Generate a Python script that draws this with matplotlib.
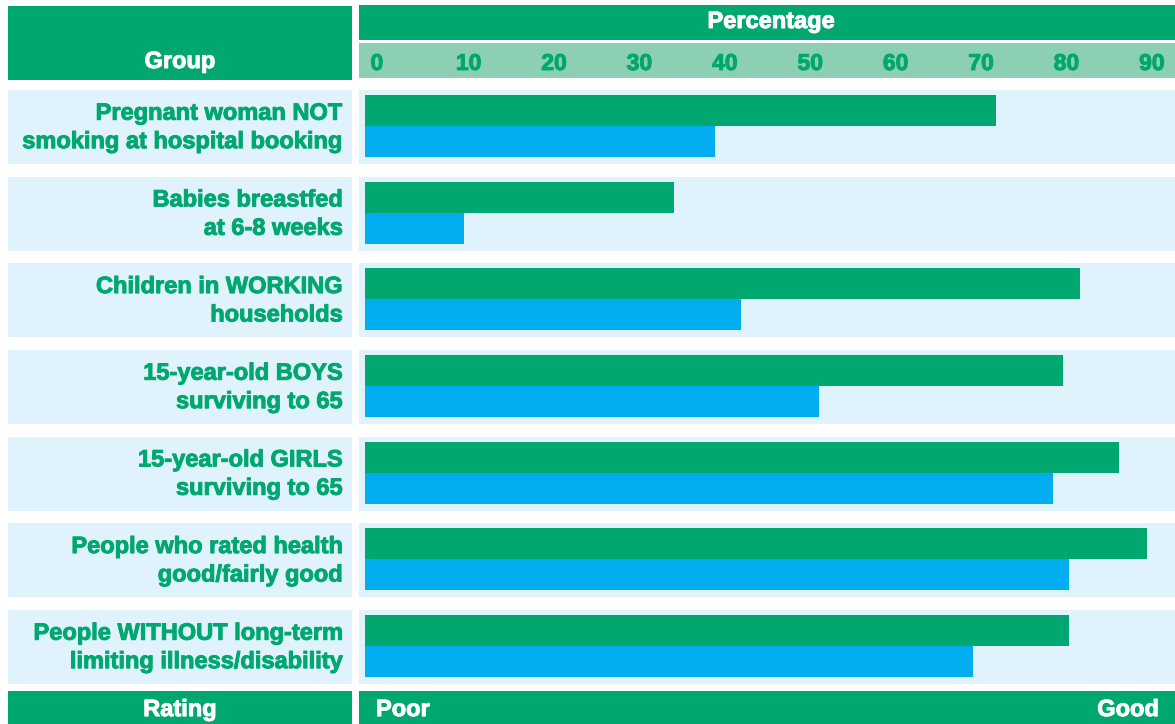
import matplotlib
matplotlib.use("Agg")
import matplotlib.pyplot as plt
import matplotlib.patheffects as pe

plt.rcParams['font.family'] = ['Liberation Sans', 'DejaVu Sans']
plt.rcParams['font.weight'] = 'bold'

# Data
groups = [
    "Pregnant woman NOT\nsmoking at hospital booking",
    "Babies breastfed\nat 6-8 weeks",
    "Children in WORKING\nhouseholds",
    "15-year-old BOYS\nsurviving to 65",
    "15-year-old GIRLS\nsurviving to 65",
    "People who rated health\ngood/fairly good",
    "People WITHOUT long-term\nlimiting illness/disability",
]
green_values = [73.9, 36.2, 83.7, 81.7, 88.3, 91.6, 82.4]
blue_values = [41.0, 11.6, 44.0, 53.2, 80.6, 82.4, 71.2]
ticks = [0, 10, 20, 30, 40, 50, 60, 70, 80, 90]

GREEN = '#00a870'
BLUE = '#00aeef'
ROWBG = '#e0f2fc'
TICKBG = '#8dcfb2'

W, H = 1175, 724
fig = plt.figure(figsize=(W / 100, H / 100), dpi=100)


def px_axes(x0, y0, x1, y1, color='white'):
    ax = fig.add_axes([x0 / W, 1 - y1 / H, (x1 - x0) / W, (y1 - y0) / H])
    ax.set_facecolor(color)
    ax.set_xticks([])
    ax.set_yticks([])
    for s in ax.spines.values():
        s.set_visible(False)
    return ax


def bold(color):
    # the reference type is a little heavier than Liberation Sans Bold
    return [pe.withStroke(linewidth=0.7, foreground=color)]


# x scale: 0% at pixel 365, 8.54 px per percent
px_per = 8.54
xlim = ((359 - 365) / px_per, (1175 - 365) / px_per)

n = len(groups)
pitch = 86.67
row_h = 74 / pitch
ylim = (n - 1 + row_h / 2, -row_h / 2)

# left labels column
axl = px_axes(8, 90, 352, 684)
axl.set_xlim(0, 344)
axl.set_ylim(*ylim)
# right bars column
axr = px_axes(359, 90, 1175, 684)
axr.set_xlim(*xlim)
axr.set_ylim(*ylim)

bar_h = 31 / pitch
for i, label in enumerate(groups):
    for ax in (axl, axr):
        ax.axhspan(i - row_h / 2, i + row_h / 2, color=ROWBG, lw=0, zorder=0)
    axl.text(335, i + 0.005, label, ha='right', va='center', color=GREEN,
             fontsize=17, fontweight='bold', linespacing=1.3,
             path_effects=bold(GREEN))
axr.barh([i - 16.5 / pitch for i in range(n)], green_values, height=bar_h,
         color=GREEN, lw=0, zorder=2)
axr.barh([i + 14.5 / pitch for i in range(n)], blue_values, height=bar_h,
         color=BLUE, lw=0, zorder=2)

# header
axh = px_axes(8, 6, 352, 80, GREEN)
axh.text(0.5, 0.162, "Group", transform=axh.transAxes, ha='center',
         va='baseline', color='white', fontsize=17, fontweight='bold',
         path_effects=bold('white'))
axp = px_axes(359, 5, 1175, 40, GREEN)
axp.text(0.505, 0.343, "Percentage", transform=axp.transAxes, ha='center',
         va='baseline', color='white', fontsize=17, fontweight='bold',
         path_effects=bold('white'))
axt = px_axes(359, 43, 1175, 78, TICKBG)
axt.set_xlim(*xlim)
axt.set_ylim(0, 1)
for t in ticks:
    axt.text(t + 5.5 / px_per, 0.229, str(t), ha='left', va='baseline',
             color=GREEN, fontsize=16.5, fontweight='bold',
             path_effects=bold(GREEN))

# footer
axf = px_axes(8, 691, 352, 724, GREEN)
axf.text(0.5, 0.24, "Rating", transform=axf.transAxes, ha='center',
         va='baseline', color='white', fontsize=17, fontweight='bold',
         path_effects=bold('white'))
axg = px_axes(359, 691, 1175, 724, GREEN)
axg.text(17 / 816, 0.24, "Poor", transform=axg.transAxes, ha='left',
         va='baseline', color='white', fontsize=17, fontweight='bold',
         path_effects=bold('white'))
axg.text(1 - 16 / 816, 0.24, "Good", transform=axg.transAxes, ha='right',
         va='baseline', color='white', fontsize=17, fontweight='bold',
         path_effects=bold('white'))

fig.savefig("out.png", dpi=100)
